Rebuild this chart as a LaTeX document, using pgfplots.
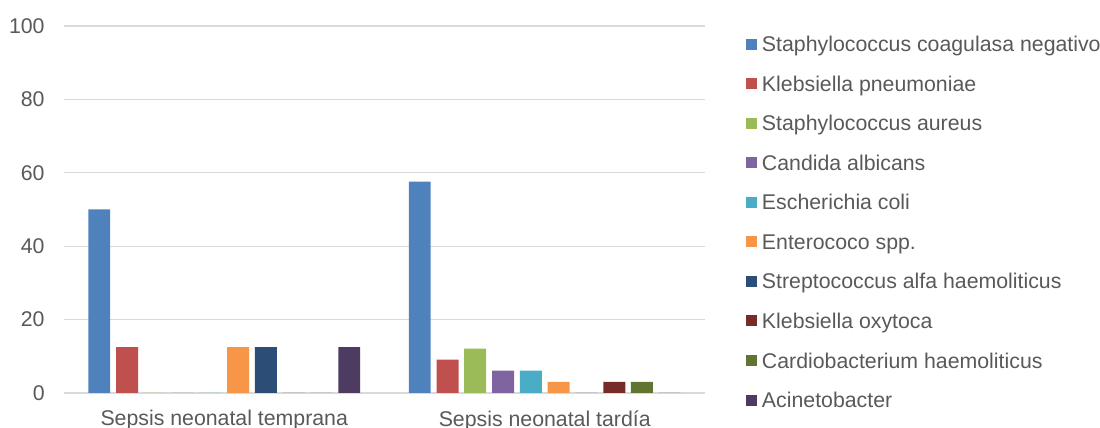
\documentclass[border=0pt]{standalone}
\usepackage{pgfplots}
\pgfplotsset{compat=1.18}
\usepackage{fontspec}
\setmainfont{Liberation Sans}
\definecolor{txt}{HTML}{595959}
\definecolor{grd}{HTML}{D9D9D9}
\definecolor{c1}{HTML}{4F81BD}
\definecolor{c2}{HTML}{C0504D}
\definecolor{c3}{HTML}{9BBB59}
\definecolor{c4}{HTML}{8064A2}
\definecolor{c5}{HTML}{4BACC6}
\definecolor{c6}{HTML}{F79646}
\definecolor{c7}{HTML}{2C4D75}
\definecolor{c8}{HTML}{772C2A}
\definecolor{c9}{HTML}{5F7530}
\definecolor{c10}{HTML}{4D3B62}
\newcommand{\fs}{\fontsize{10.65}{12.8}\selectfont}
\begin{document}
\begin{tikzpicture}
\begin{axis}[
  scale only axis, width=320.5pt, height=183.5pt,
  xmin=-0.5, xmax=1.5, ymin=0, ymax=100,
  xtick={0,1}, xticklabels={Sepsis neonatal temprana, Sepsis neonatal tardía},
  ytick={0,20,40,60,80,100},
  ymajorgrids, grid style={grd, line width=0.6pt},
  axis line style={draw=none},
  major tick length=0pt,
  tick style={draw=none},
  /pgf/number format/assume math mode=true,
  yticklabel style={font=\fs, text=txt, inner sep=0pt, anchor=east, xshift=-9.5pt},
  xticklabel style={font=\fs, text=txt, inner sep=0pt, anchor=north, yshift=-8.5pt},
  ybar, bar width=0.0686,
  every axis plot/.append style={draw=none},
  legend image code/.code={\fill[#1] (0pt,1.05pt) rectangle (5.5pt,6.55pt);},
  legend style={draw=none, fill=none, inner sep=0pt, outer sep=0pt,
    at={(1,1)}, anchor=north west, xshift=20.5pt, yshift=-4.8pt,
    row sep=9.28pt, column sep=2.5pt,
    font=\fs, text=txt,
    nodes={inner sep=0pt, text height=8pt, text depth=2.5pt, anchor=base west}},
  legend cell align=left,
]
\addplot[fill=c1, bar shift=-0.390] coordinates {(0,50) (1,57.6)};
\addplot[fill=c2, bar shift=-0.303] coordinates {(0,12.5) (1,9.1)};
\addplot[fill=c3, bar shift=-0.217] coordinates {(0,0) (1,12.1)};
\addplot[fill=c4, bar shift=-0.130] coordinates {(0,0) (1,6.1)};
\addplot[fill=c5, bar shift=-0.0433] coordinates {(0,0) (1,6.1)};
\addplot[fill=c6, bar shift=0.0433] coordinates {(0,12.5) (1,3.0)};
\addplot[fill=c7, bar shift=0.130] coordinates {(0,12.5) (1,0)};
\addplot[fill=c8, bar shift=0.217] coordinates {(0,0) (1,3.0)};
\addplot[fill=c9, bar shift=0.303] coordinates {(0,0) (1,3.0)};
\addplot[fill=c10, bar shift=0.390] coordinates {(0,12.5) (1,0)};
\legend{Staphylococcus coagulasa negativo, Klebsiella pneumoniae, Staphylococcus aureus, Candida albicans, Escherichia coli, Enterococo spp., Streptococcus alfa haemoliticus, Klebsiella oxytoca, Cardiobacterium haemoliticus, Acinetobacter}
\end{axis}
\pgfresetboundingbox
\path (-32pt,-17.5pt) rectangle (518pt,196.5pt);
\end{tikzpicture}
\end{document}
